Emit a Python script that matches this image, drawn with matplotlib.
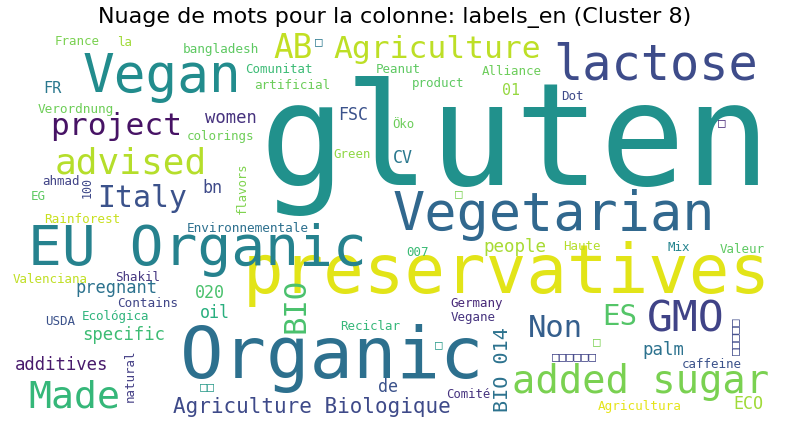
import matplotlib
matplotlib.use("Agg")
from matplotlib import pyplot as plt

# word cloud content: words and their font sizes (proportional to frequency)
words = ["gluten", "Organic", "preservatives", "EU Organic", "Vegan", "Vegetarian",
         "lactose", "GMO", "added sugar", "Made", "advised", "AB", "Agriculture",
         "project", "Non", "Italy", "BIO", "ES", "Agriculture Biologique", "BIO 014",
         "people", "palm", "women", "pregnant", "specific", "additives", "FSC", "CV",
         "bn", "020", "oil", "de", "ECO", "FR", "01",
         "France", "la", "bangladesh", "Comunitat", "Peanut", "artificial", "Alliance",
         "product", "Dot", "Verordnung", "colorings", "Öko", "Green", "ahmad", "EG",
         "Rainforest", "Environnementale", "007", "Haute", "Mix", "Valeur",
         "Valenciana", "Shakil", "Contains", "Ecológica", "USDA", "Reciclar",
         "Germany", "Vegane", "caffeine", "Comité", "Agricultura",
         "100", "flavors", "natural",
         "□", "□□", "□", "□", "□", "□", "□□□□□□", "□□□□□"]
sizes = [102, 52, 48.5, 40.5, 38, 38.5,
         35, 31, 28, 27.5, 26, 23.5, 22.6,
         22.5, 22, 21.5, 22, 21, 15, 14.5,
         12.6, 12.5, 12.4, 12.3, 12.4, 12.4, 12, 12,
         12, 12, 12, 12, 12, 11, 10.8,
         9, 9, 9.2, 8.9, 9, 9.1, 9,
         9, 9, 9.2, 9, 8.8, 8.9, 9, 9,
         9.1, 9.2, 9, 9, 9, 9,
         9, 9, 9.1, 9, 9, 9,
         9, 9, 9, 8.8, 9.1,
         8.4, 8.8, 9,
         9, 9, 9, 9, 9, 9, 9, 9]

# layout: (x, y, rotation) in pixels of the 790x429 canvas, and colours
layout = [(260, 185, 0), (180, 378, 0), (243, 293, 0), (28, 265, 0), (83, 92, 0), (393, 230, 0),
          (553, 80, 0), (647, 332, 0), (512, 393, 0), (28, 408, 0), (55, 173, 0), (273, 58, 0), (333, 58, 0),
          (50, 135, 0), (528, 337, 0), (97, 207, 0), (296, 305, 90), (602, 325, 0), (173, 413, 0), (502, 370, 90),
          (483, 252, 0), (642, 355, 0), (205, 123, 0), (75, 293, 0), (82, 340, 0), (15, 370, 0), (338, 120, 0), (393, 163, 0),
          (202, 193, 0), (195, 298, 0), (200, 318, 0), (378, 392, 0), (733, 409, 0), (43, 93, 0), (502, 95, 0),
          (55, 45, 0), (117, 46, 0), (183, 53, 0), (245, 73, 0), (376, 73, 0), (254, 89, 0), (482, 75, 0),
          (412, 87, 0), (561, 100, 0), (38, 113, 0), (187, 140, 0), (392, 128, 0), (333, 158, 0), (42, 185, 0), (31, 200, 0),
          (44, 223, 0), (187, 232, 0), (406, 256, 0), (563, 250, 0), (668, 251, 0), (720, 253, 0),
          (13, 283, 0), (115, 281, 0), (117, 307, 0), (82, 320, 0), (45, 325, 0), (340, 330, 0),
          (450, 307, 0), (451, 321, 0), (682, 368, 0), (446, 398, 0), (598, 410, 0),
          (87, 187, 90), (242, 188, 90), (130, 376, 90),
          (315, 45, 0), (200, 390, 0), (435, 348, 0), (593, 345, 0), (455, 197, 0), (718, 126, 0), (552, 360, 0), (736, 336, 90)]
colors = ["#21918c", "#2d708e", "#e2e418", "#26828e", "#228c8d", "#31688e",
          "#3e4c8a", "#404387", "#7ad151", "#35b779", "#b5de2b", "#c2df23", "#bddf26",
          "#471365", "#355f8d", "#3b528b", "#4ac16d", "#54c568", "#3e4a89", "#2c728e",
          "#a8db34", "#2c728e", "#46327e", "#2c728e", "#3dbc74", "#481a6c", "#3b528b", "#2a788e",
          "#3e4a89", "#4ac16d", "#29af7f", "#3b528b", "#a0da39", "#2a788e", "#95d840",
          "#7ad151", "#a0da39", "#5ec962", "#3bbb75", "#5ec962", "#6ccd5a", "#6ccd5a",
          "#5ec962", "#3e4a89", "#6ece58", "#6ece58", "#6ccd5a", "#8fd744", "#414487", "#5ec962",
          "#c8e020", "#2d708e", "#3bbb75", "#b5de2b", "#25848e", "#5ec962",
          "#c0df25", "#453781", "#404688", "#2fb47c", "#3b528b", "#35b779",
          "#482878", "#46337f", "#3b528b", "#46337f", "#e5e419",
          "#3e4989", "#7fd34e", "#433e85",
          "#2a788e", "#2a9a8a", "#2a9a8a", "#7ad151", "#7ad151", "#482878", "#414487", "#3e4989"]

fig = plt.figure(figsize=(7.9, 4.29), dpi=100)
ax = fig.add_axes([0, 0, 1, 1])
ax.set_xlim(0, 790)
ax.set_ylim(429, 0)
ax.axis("off")

for w, s, (x, y, rot), c in zip(words, sizes, layout, colors):
    if rot:
        ax.text(x, y, w, fontsize=s, color=c, rotation=rot, ha="center", va="center",
                family="DejaVu Sans Mono")
    else:
        ax.text(x, y, w, fontsize=s, color=c, ha="left", va="baseline",
                family="DejaVu Sans Mono")

ax.text(395, 18, "Nuage de mots pour la colonne: labels_en (Cluster 8)", fontsize=16,
        ha="center", va="center", family="DejaVu Sans")

plt.savefig("out.png", dpi=100)
